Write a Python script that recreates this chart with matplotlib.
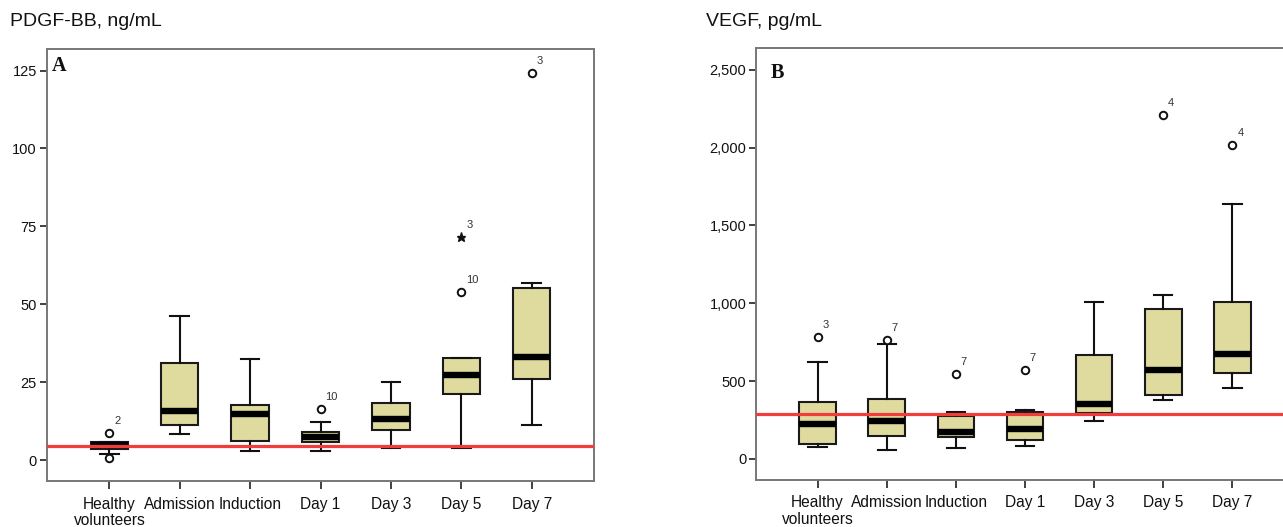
import matplotlib
matplotlib.use("Agg")
import matplotlib.pyplot as plt

# ---------------- data ----------------
categories = ["Healthy\nvolunteers", "Admission", "Induction", "Day 1", "Day 3", "Day 5", "Day 7"]

# Panel A: PDGF-BB, ng/mL
pdgf_whislo = [2.1, 8.3, 3.0, 3.0, 3.9, 4.0, 11.3]
pdgf_q1 = [3.6, 11.4, 6.0, 5.9, 9.7, 21.1, 25.9]
pdgf_med = [5.0, 15.7, 14.8, 7.6, 13.1, 27.2, 33.1]
pdgf_q3 = [5.9, 31.3, 17.7, 9.1, 18.3, 32.9, 55.1]
pdgf_whishi = [5.9, 46.1, 32.5, 12.3, 25.0, 32.9, 56.8]
pdgf_outliers = [[8.6, 0.7], [], [], [16.4], [], [54.0], [124.1]]
pdgf_outlier_ids = [["2", "1"], [], [], ["10"], [], ["10"], ["3"]]
pdgf_extremes = [[], [], [], [], [], [71.6], []]
pdgf_extreme_ids = [[], [], [], [], [], ["3"], []]
pdgf_reference = 4.6
pdgf_yticks = [0, 25, 50, 75, 100, 125]
pdgf_yticklabels = ["0", "25", "50", "75", "100", "125"]

# Panel B: VEGF, pg/mL
vegf_whislo = [75, 60, 69, 80, 242, 376, 455]
vegf_q1 = [97, 147, 138, 121, 296, 413, 552]
vegf_med = [222, 242, 175, 190, 352, 569, 674]
vegf_q3 = [365, 387, 274, 300, 665, 966, 1009]
vegf_whishi = [620, 739, 302, 315, 1009, 1056, 1635]
vegf_outliers = [[782], [765], [547], [570], [], [2208], [2017]]
vegf_outlier_ids = [["3"], ["7"], ["7"], ["7"], [], ["4"], ["4"]]
vegf_reference = 290
vegf_yticks = [0, 500, 1000, 1500, 2000, 2500]
vegf_yticklabels = ["0", "500", "1,000", "1,500", "2,000", "2,500"]

# ---------------- style ----------------
BOX_FACE = "#DFDB9F"
RED = "#F23B3B"
SPINE = "#777777"
FONT = "Liberation Sans"

W, H = 1283, 527
fig = plt.figure(figsize=(W / 100, H / 100), dpi=100)


def px_axes(left, right, top, bottom):
    return [left / W, 1 - bottom / H, (right - left) / W, (bottom - top) / H]


def draw_panel(ax, whislo, q1, med, q3, whishi, outliers, outlier_ids,
               extremes, extreme_ids, ref, yticks, yticklabels, ylim):
    positions = list(range(1, len(categories) + 1))
    stats = []
    for i in range(len(categories)):
        stats.append(dict(whislo=whislo[i], q1=q1[i], med=med[i], q3=q3[i],
                          whishi=whishi[i], fliers=[]))
    ax.bxp(stats, positions=positions, widths=0.53, patch_artist=True,
           showfliers=False,
           boxprops=dict(facecolor=BOX_FACE, edgecolor="#1a1a1a", linewidth=1.5),
           medianprops=dict(color="black", linewidth=4.6, solid_capstyle="butt"),
           whiskerprops=dict(color="#111111", linewidth=1.5),
           capprops=dict(color="#111111", linewidth=1.5),
           zorder=3)
    for i, pos in enumerate(positions):
        for val, lab in zip(outliers[i], outlier_ids[i]):
            ax.plot(pos, val, marker="o", ms=5.4, mfc="white", mec="#111111",
                    mew=1.4, ls="none", zorder=4)
            ax.annotate(lab, (pos, val), xytext=(3.5, 5), textcoords="offset points",
                        fontsize=8, color="#333333", family=FONT,
                        ha="left", va="bottom", zorder=2)
        for val, lab in zip(extremes[i], extreme_ids[i]):
            ax.plot(pos, val, marker="*", ms=6.5, mfc="#111111", mec="#111111",
                    ls="none", zorder=4)
            ax.annotate(lab, (pos, val), xytext=(3.5, 5), textcoords="offset points",
                        fontsize=8, color="#333333", family=FONT,
                        ha="left", va="bottom", zorder=2)
    ax.axhline(ref, color=RED, linewidth=2.3, zorder=5)
    ax.set_xlim(0.11, 7.89)
    ax.set_ylim(*ylim)
    ax.set_xticks(positions)
    ax.set_xticklabels(categories, fontsize=11.2, family=FONT, color="#111111",
                       linespacing=1.12)
    ax.set_yticks(yticks)
    ax.set_yticklabels(yticklabels, fontsize=10.5, family=FONT, color="#111111")
    for sp in ax.spines.values():
        sp.set_color(SPINE)
        sp.set_linewidth(1.4)
    ax.tick_params(axis="x", direction="out", length=6, width=1.3,
                   color="#333333", pad=5)
    ax.tick_params(axis="y", direction="out", length=5, width=1.3,
                   color="#333333", pad=2)


axA = fig.add_axes(px_axes(46.7, 594.3, 48.7, 481.4))
draw_panel(axA, pdgf_whislo, pdgf_q1, pdgf_med, pdgf_q3, pdgf_whishi,
           pdgf_outliers, pdgf_outlier_ids, pdgf_extremes, pdgf_extreme_ids,
           pdgf_reference, pdgf_yticks, pdgf_yticklabels, (-6.8, 132.0))

axB = fig.add_axes(px_axes(756, 1294, 48, 480))
draw_panel(axB, vegf_whislo, vegf_q1, vegf_med, vegf_q3, vegf_whishi,
           vegf_outliers, vegf_outlier_ids, [[] for _ in categories],
           [[] for _ in categories], vegf_reference, vegf_yticks,
           vegf_yticklabels, (-136, 2641))

fig.text(10 / W, 1 - 22 / H, "PDGF-BB, ng/mL", fontsize=14, family=FONT,
         ha="left", va="center", color="#111111")
fig.text(706 / W, 1 - 22 / H, "VEGF, pg/mL", fontsize=14, family=FONT,
         ha="left", va="center", color="#111111")
fig.text(58.7 / W, 1 - 66 / H, "A", fontsize=14.5, family="Liberation Serif",
         fontweight="bold", ha="center", va="center", color="#111111")
fig.text(777.5 / W, 1 - 73 / H, "B", fontsize=14.5, family="Liberation Serif",
         fontweight="bold", ha="center", va="center", color="#111111")

fig.savefig("out.png", dpi=100)
